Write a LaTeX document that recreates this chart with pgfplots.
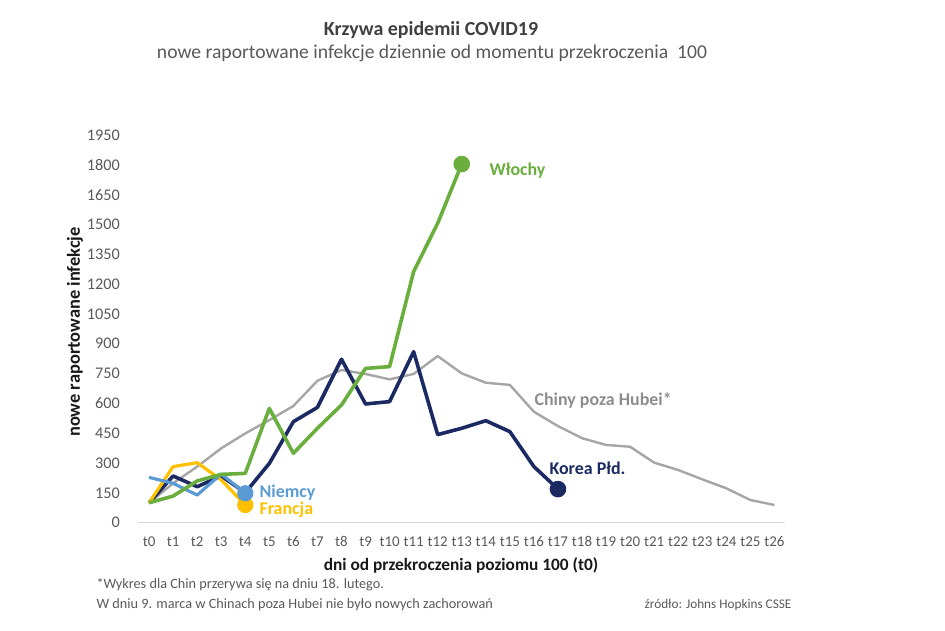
\documentclass[border=0pt]{standalone}
\usepackage{pgfplots}
\pgfplotsset{compat=1.18}
\usepackage{fontspec}
\setmainfont{Carlito}
\definecolor{cgreen}{HTML}{6AAE3E}
\definecolor{cnavy}{HTML}{1B2A63}
\definecolor{cgray}{HTML}{A6A6A6}
\definecolor{cblue}{HTML}{5B9BD5}
\definecolor{corange}{HTML}{FFC000}
\definecolor{ctitle}{HTML}{404040}
\definecolor{ctext}{HTML}{595959}
\begin{document}
\begin{tikzpicture}[x=1bp,y=1bp]
\useasboundingbox (0,0) rectangle (945,631);
\begin{axis}[
  at={(138bp,108.3bp)}, anchor=south west,
  scale only axis, width=647bp, height=387.7bp,
  xmin=-0.46, xmax=26.44, ymin=0, ymax=1950,
  axis x line*=bottom, axis y line*=left,
  x axis line style={draw=black!15, line width=0.8pt, -},
  y axis line style={draw=none, -},
  xtick={0,...,26},
  xticklabels={t0,t1,t2,t3,t4,t5,t6,t7,t8,t9,t10,t11,t12,t13,t14,t15,t16,t17,t18,t19,t20,t21,t22,t23,t24,t25,t26},
  ytick={0,150,...,1950},
  major tick length=0pt,
  tick label style={text=ctext, inner sep=0pt},
  /pgf/number format/assume math mode=true,
  /pgf/number format/1000 sep={},
  xticklabel style={font=\fontsize{15}{17}\selectfont, anchor=base, yshift=-23.5bp},
  yticklabel style={font=\fontsize{16.3}{18}\selectfont, anchor=east, xshift=-18bp},
  clip=false,
  line join=round,
]
% Chiny poza Hubei
\addplot[cgray, line width=2.4bp] coordinates {
(0,100)(1,198)(2,282)(3,374)(4,449)(5,516)(6,587)(7,714)(8,768)(9,748)(10,721)(11,748)(12,838)(13,751)(14,704)(15,693)(16,558)(17,486)(18,425)(19,391)(20,382)(21,302)(22,265)(23,218)(24,173)(25,114)(26,89)};
% Korea
\addplot[cnavy, line width=3.6bp, mark=*, mark indices={18}, mark size=6.5bp] coordinates {
(0,100)(1,235)(2,181)(3,235)(4,151)(5,298)(6,508)(7,580)(8,822)(9,597)(10,609)(11,860)(12,443)(13,475)(14,513)(15,458)(16,282)(17,169)};
% Francja
\addplot[corange, line width=3.2bp, mark=*, mark indices={5}, mark size=6.5bp] coordinates {
(0,100)(1,282)(2,302)(3,215)(4,89)};
% Niemcy
\addplot[cblue, line width=3.2bp, mark=*, mark indices={5}, mark size=6.5bp] coordinates {
(0,228)(1,198)(2,139)(3,245)(4,148)};
% Wlochy
\addplot[cgreen, line width=3.6bp, mark=*, mark indices={14}, mark size=6.5bp] coordinates {
(0,100)(1,134)(2,210)(3,243)(4,248)(5,575)(6,349)(7,475)(8,592)(9,776)(10,785)(11,1263)(12,1506)(13,1804)};
\end{axis}
\begin{scope}[font=\fontsize{18}{20}\selectfont\bfseries]
\node[anchor=west, text=cgreen] at (486,631-171) {Włochy};
\node[anchor=west, text=cgray!85!black] at (531,631-401) {Chiny poza Hubei*};
\node[anchor=west, text=cnavy] at (546,631-468) {Korea Płd.};
\node[anchor=west, text=cblue] at (256,631-493) {Niemcy};
\node[anchor=west, text=corange] at (256,631-510) {Francja};
\end{scope}
\node[text=ctitle, font=\fontsize{20}{22}\selectfont\bfseries] at (431,631-30) {Krzywa epidemii COVID19};
\node[text=ctext, font=\fontsize{19.7}{22}\selectfont] at (432,631-53) {nowe raportowane infekcje dziennie od momentu przekroczenia\ \ 100};
\node[text=black!90, rotate=90, font=\fontsize{18.5}{20}\selectfont\bfseries] at (75,631-332) {nowe raportowane infekcje};
\node[text=black!90, font=\fontsize{17.4}{19}\selectfont\bfseries] at (461,631-565) {dni od przekroczenia poziomu 100 (t0)};
\node[anchor=west, text=ctext, font=\fontsize{14.3}{16}\selectfont] at (93,631-585) {*Wykres dla Chin przerywa się na dniu 18. lutego.};
\node[anchor=west, text=ctext, font=\fontsize{14.3}{16}\selectfont] at (93,631-605) {W dniu 9. marca w Chinach poza Hubei nie było nowych zachorowań};
\node[anchor=east, text=ctext, font=\fontsize{13.3}{15}\selectfont] at (795,631-605) {źródło: Johns Hopkins CSSE};
\end{tikzpicture}
\end{document}
